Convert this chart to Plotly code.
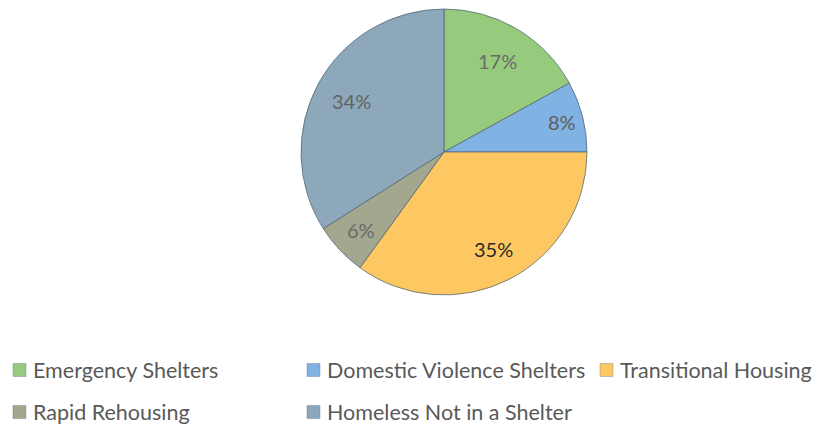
import math
import plotly.graph_objects as go

categories = ["Emergency Shelters", "Domestic Violence Shelters", "Transitional Housing",
              "Rapid Rehousing", "Homeless Not in a Shelter"]
shares = [17, 8, 35, 6, 34]
pct_labels = ["17%", "8%", "35%", "6%", "34%"]

slice_colors = ["#96CB7E", "#80B3E3", "#FDC862", "#A3A78E", "#8DA8BA"]
label_colors = ["#6A6A6A", "#5E5E5E", "#2A2A2A", "#6A6A6A", "#636363"]
label_radius = [0.74, 0.85, 0.76, 0.80, 0.74]   # where each % label sits, as fraction of radius

# the page body adds an 8px margin, so the figure is 8px smaller and positions are shifted
OFF = 8
W, H = 820 - OFF, 428 - OFF
cx, cy, R = 444 - OFF, 152 - OFF, 143

fig = go.Figure(go.Pie(
    labels=categories,
    values=shares,
    textinfo="none",
    sort=False,
    direction="clockwise",
    rotation=0,
    marker=dict(colors=slice_colors, line=dict(color="rgba(80,100,115,0.75)", width=1)),
    domain=dict(x=[(cx - R) / W, (cx + R) / W], y=[1 - (cy + R) / H, 1 - (cy - R) / H]),
    hoverinfo="label+percent",
    showlegend=False,
))

# percentage labels at the middle angle of each slice
total = sum(shares)
start = 0
for lab, v, col, rf in zip(pct_labels, shares, label_colors, label_radius):
    mid = (start + v / 2) / total * 2 * math.pi
    start += v
    px_ = cx + rf * R * math.sin(mid)
    py_ = cy - rf * R * math.cos(mid)
    fig.add_annotation(x=px_ / W, y=1 - py_ / H, xref="paper", yref="paper",
                       xanchor="center", yanchor="middle",
                       text=lab, showarrow=False,
                       font=dict(family="Lato", size=20, color=col))

# legend, laid out like the original (3 + 2 entries)
legend_pos = [(13, 370), (307, 370), (600, 370), (13, 412), (307, 412)]
sq = 13
for name, col, (lx, ly) in zip(categories, slice_colors, legend_pos):
    lx, ly = lx - OFF, ly - OFF
    fig.add_shape(type="rect", xref="paper", yref="paper",
                  x0=lx / W, x1=(lx + sq) / W,
                  y0=1 - (ly + sq / 2) / H, y1=1 - (ly - sq / 2) / H,
                  fillcolor=col, line=dict(color="rgba(90,110,120,0.35)", width=1))
    fig.add_annotation(x=(lx + sq + 5) / W, y=1 - ly / H, xref="paper", yref="paper",
                       xanchor="left", yanchor="middle", text=name, showarrow=False,
                       font=dict(family="Lato", size=21.5, color="#595959"))

fig.update_layout(
    width=W, height=H,
    margin=dict(l=0, r=0, t=0, b=0),
    paper_bgcolor="white",
    plot_bgcolor="white",
    font=dict(family="Lato", color="#595959"),
)

fig.write_html("out.html")
